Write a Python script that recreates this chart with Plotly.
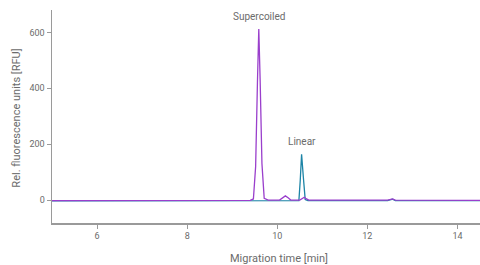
import plotly.graph_objects as go

# Supercoiled trace (purple)
sc_time = [5.0, 9.40, 9.47, 9.52, 9.56, 9.59, 9.62, 9.66, 9.71, 9.80, 10.05, 10.12, 10.18, 10.24, 10.30,
           10.50, 10.56, 10.60, 10.64, 10.70, 12.45, 12.52, 12.56, 12.62, 14.5]
sc_rfu = [-2, -1, 4, 120, 420, 612, 430, 130, 6, 0, 0, 8, 15, 8, 0,
          0, 5, 10, 5, 0, 0, 3, 4, 0, -1]

# Linear trace (teal)
lin_time = [5.0, 10.40, 10.48, 10.51, 10.54, 10.58, 10.62, 10.68, 12.45, 12.52, 12.56, 12.62, 14.5]
lin_rfu = [-3, -3, -2, 70, 164, 80, 2, -2, -2, 2, 3, -2, -2]

x_ticks = [6, 8, 10, 12, 14]
y_ticks = [0, 200, 400, 600]

purple = "#9a3fcc"
teal = "#1c84a6"
grey_text = "#6b6b6b"
axis_col = "#9a9a9a"

fig = go.Figure()
fig.add_trace(go.Scatter(x=lin_time, y=lin_rfu, mode="lines",
                         line=dict(color=teal, width=1.3), showlegend=False))
fig.add_trace(go.Scatter(x=sc_time, y=sc_rfu, mode="lines",
                         line=dict(color=purple, width=1.3), showlegend=False))

fig.add_annotation(x=9.59, y=612, text="Supercoiled", showarrow=False, yshift=13,
                   font=dict(size=10, color=grey_text))
fig.add_annotation(x=10.54, y=164, text="Linear", showarrow=False, yshift=13,
                   font=dict(size=10, color=grey_text))

# axis titles as annotations for precise placement
fig.add_annotation(x=0.53, y=0, xref="paper", yref="paper", yshift=-35,
                   text="Migration time [min]", showarrow=False, yanchor="middle",
                   font=dict(size=11, color=grey_text))
fig.add_annotation(x=0, y=0.49, xref="paper", yref="paper", xshift=-35,
                   text="Rel. fluorescence units [RFU]", showarrow=False, textangle=-90,
                   xanchor="center", font=dict(size=11, color=grey_text))

fig.update_layout(
    width=480, height=265,
    margin=dict(l=52, r=0, t=10, b=42),
    paper_bgcolor="white", plot_bgcolor="white",
    font=dict(family="Roboto, Open Sans, sans-serif", color=grey_text, size=9),
    xaxis=dict(range=[5.0, 14.5], tickvals=x_ticks, ticks="outside", ticklen=4,
               tickcolor=axis_col, showline=True, linecolor=axis_col, linewidth=1.5,
               showgrid=False, zeroline=False, automargin=False),
    yaxis=dict(range=[-82, 680], tickvals=y_ticks, ticks="outside", ticklen=4,
               tickcolor=axis_col, showline=True, linecolor=axis_col, linewidth=1.5,
               showgrid=False, zeroline=False, automargin=False),
)

fig.write_html("out.html", config={"displayModeBar": False, "staticPlot": True},
               post_script="document.body.style.margin='0';document.body.style.overflow='hidden';")
